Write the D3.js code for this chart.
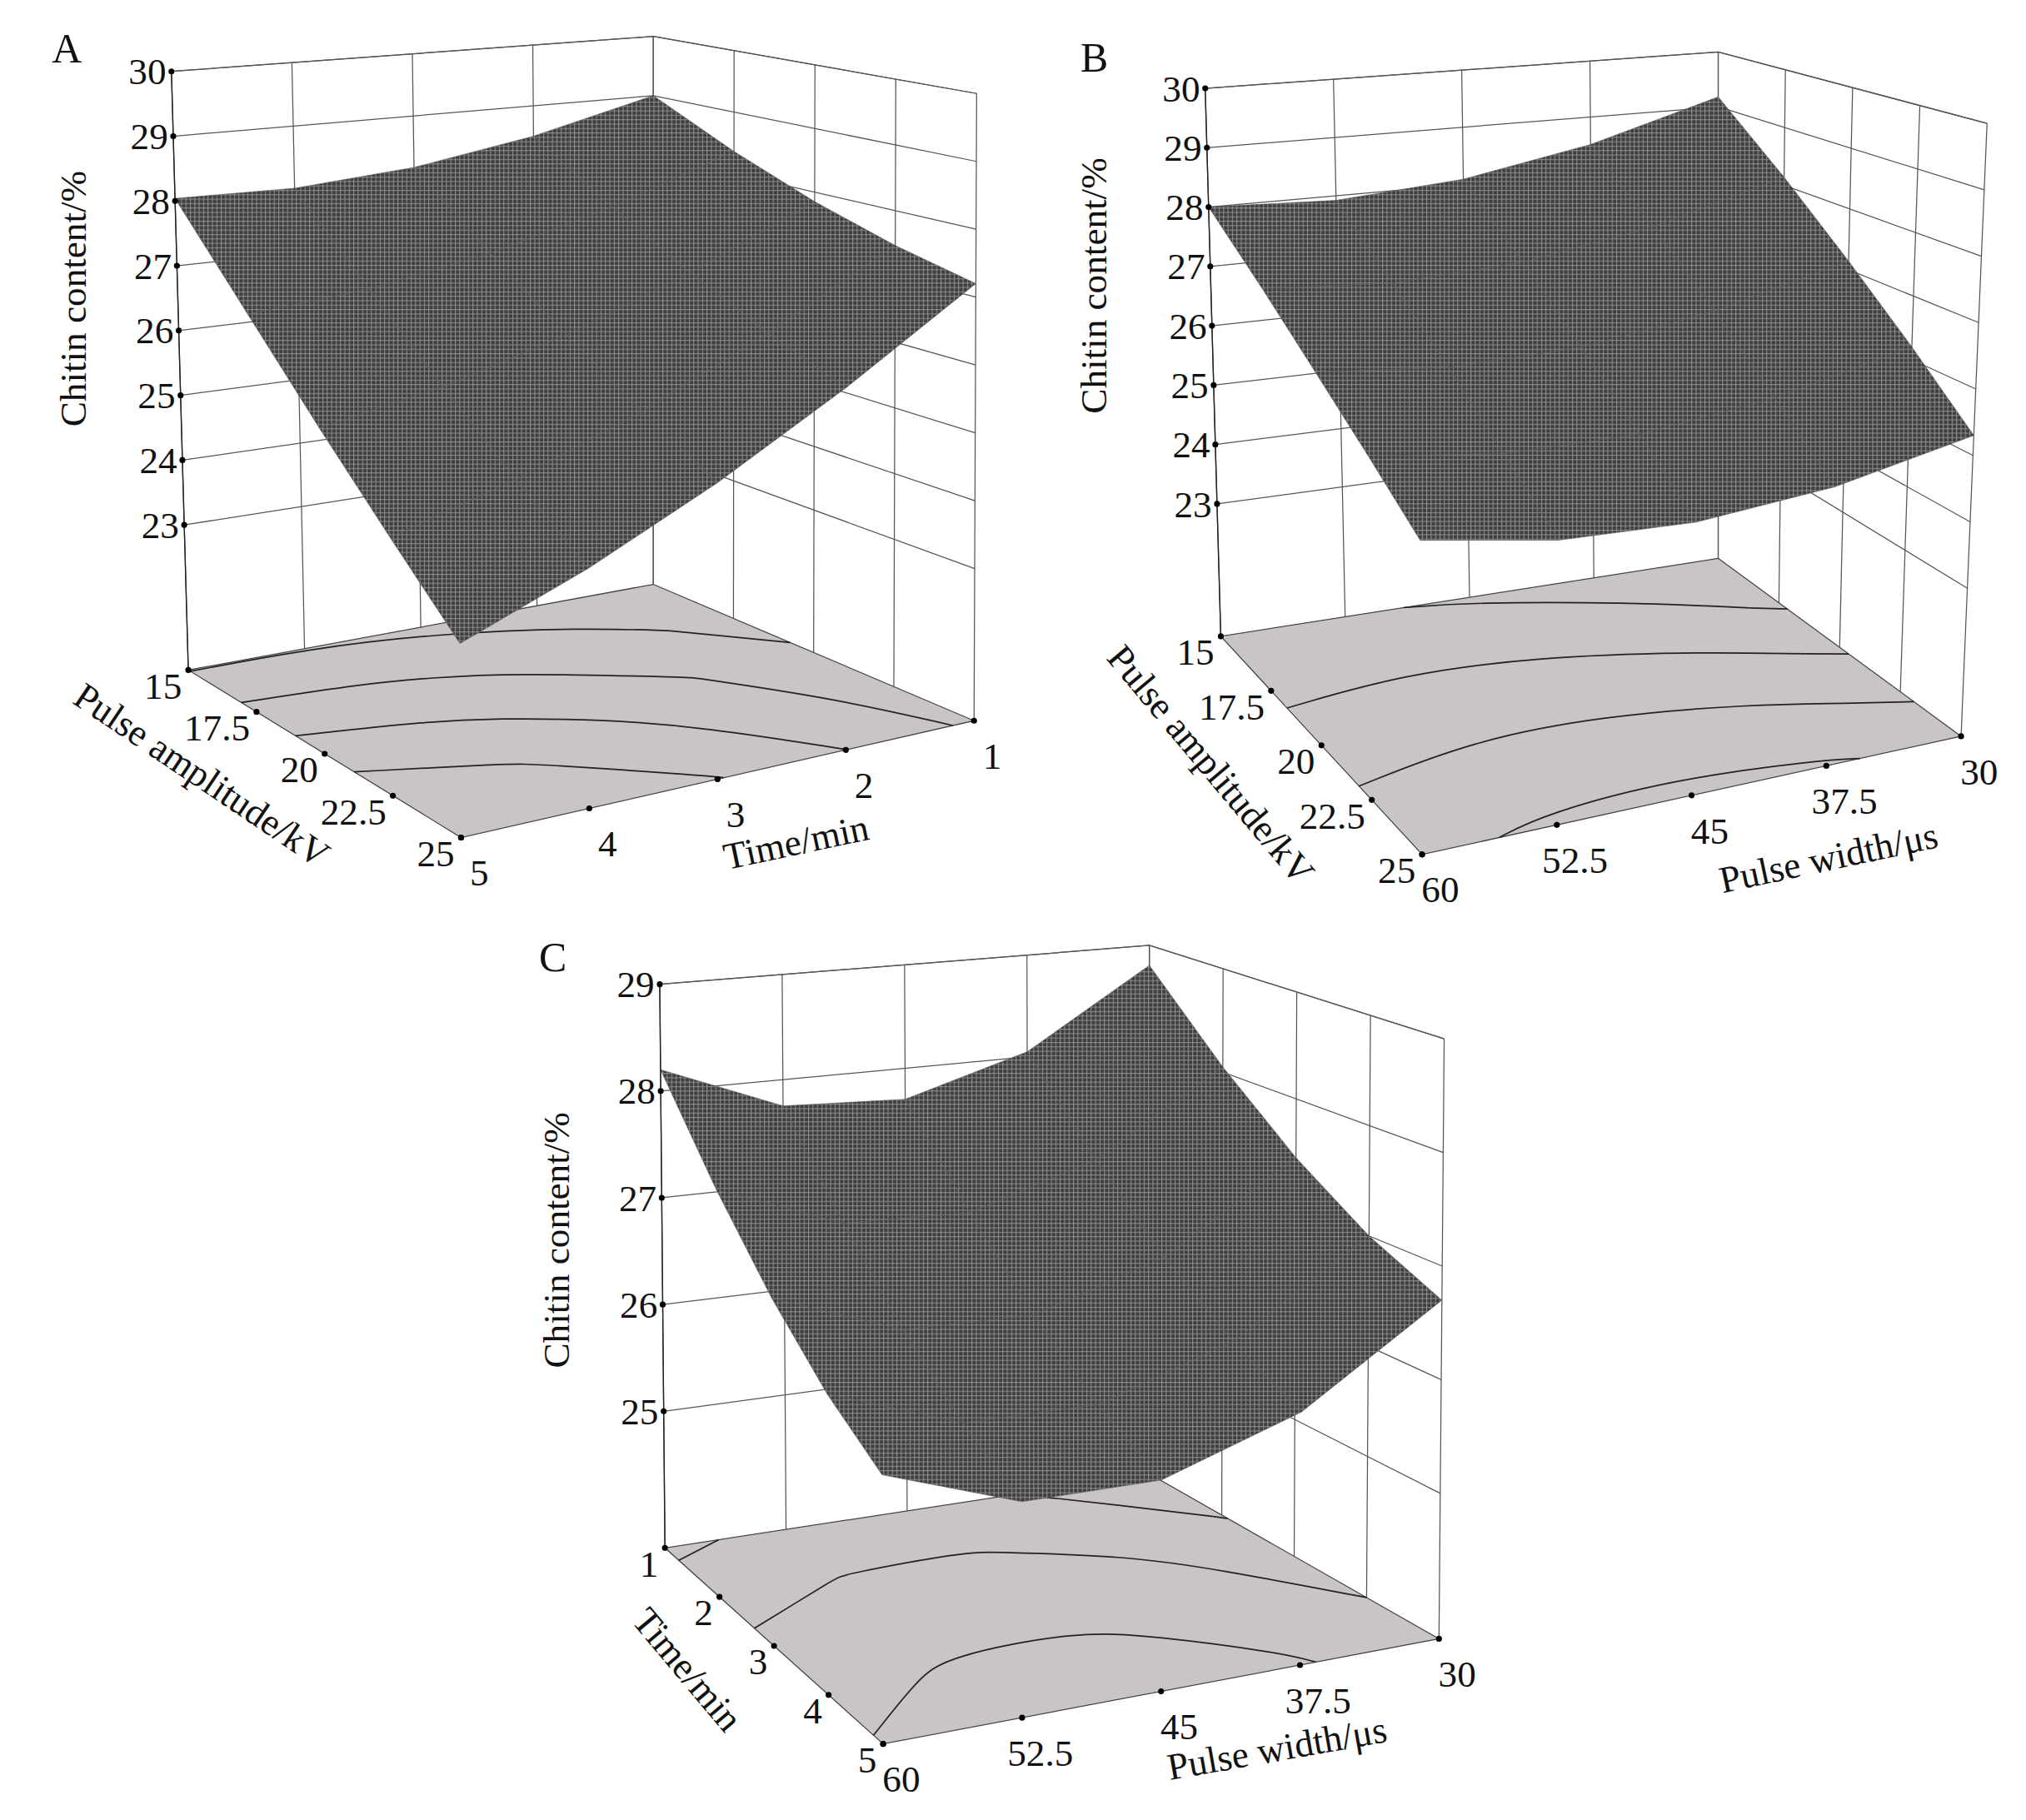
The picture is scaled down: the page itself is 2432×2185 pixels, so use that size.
<!DOCTYPE html>
<html>
<head>
<meta charset="utf-8">
<script src="https://cdn.jsdelivr.net/npm/d3@7"></script>
<style>
  body { margin: 0; background: #fff; }
  text { font-family: "Liberation Serif", "DejaVu Serif", serif; fill: #111; }
</style>
</head>
<body>
<svg id="chart" width="2432" height="2185"></svg>
<script>
// ---- data ----
var ampTicks = [15, 17.5, 20, 22.5, 25];
var timeTicks = [1, 2, 3, 4, 5];
var widthTicks = [30, 37.5, 45, 52.5, 60];
var zTicksAB = [23, 24, 25, 26, 27, 28, 29, 30];
var zTicksC = [25, 26, 27, 28, 29];

// chitin content, rows: first factor low->high, columns: second factor low->high
var surfA = [ // rows amplitude 15..25, cols time 1..5
  [29.00, 28.50, 28.17, 28.02, 28.04],
  [28.36, 27.68, 27.18, 26.85, 26.70],
  [27.85, 26.99, 26.31, 25.80, 25.47],
  [27.47, 26.43, 25.57, 24.89, 24.38],
  [27.20, 25.99, 24.95, 24.09, 23.40]
];
var surfB = [ // rows amplitude 15..25, cols width 30..60
  [29.18, 28.51, 28.09, 27.92, 28.00],
  [28.14, 27.53, 27.18, 27.08, 27.23],
  [27.14, 26.61, 26.32, 26.29, 26.50],
  [26.20, 25.73, 25.51, 25.54, 25.83],
  [25.30, 24.90, 24.75, 24.85, 25.20]
];
var surfC = [ // rows time 1..5, cols width 30..60
  [28.80, 28.05, 27.70, 27.75, 28.20],
  [28.05, 27.29, 26.93, 26.97, 27.41],
  [27.45, 26.68, 26.31, 26.34, 26.77],
  [27.00, 26.22, 25.84, 25.86, 26.28],
  [26.70, 25.91, 25.52, 25.53, 25.94]
];
var levelsA = [25, 26, 27, 28];
var levelsB = [25, 26, 27, 28];
var levelsC = [26, 27, 28];

var panels = [
  { tag: "A", pTicks: ampTicks, qTicks: timeTicks, pDom: [15, 25], qDom: [1, 5],
    zTicks: zTicksAB, zDom: [20.76, 30], surf: surfA, levels: levelsA,
    pTitle: "Pulse amplitude/kV", qTitle: "Time/min",
    // screen corners (bottom, top): back, right, left, front
    box: { back: [[503, 450], [503, 28]], right: [[750, 555], [752, 72]],
           left: [[145, 516], [132, 55]], front: [[355, 645], [352, 122]] },
    tagPos: [40, 48], yTitle: [66, 230], pT: [150, 605, 34], qT: [615, 658, -12] },
  { tag: "B", pTicks: ampTicks, qTicks: widthTicks, pDom: [15, 25], qDom: [30, 60],
    zTicks: zTicksAB, zDom: [20.77, 30], surf: surfB, levels: levelsB,
    pTitle: "Pulse amplitude/kV", qTitle: "Pulse width/μs",
    box: { back: [[1323, 430], [1323, 40]], right: [[1510, 567], [1530, 95]],
           left: [[940, 490], [928, 68]], front: [[1095, 658], [1092, 154]] },
    tagPos: [832, 55], yTitle: [852, 220], pT: [925, 595, 50], qT: [1410, 670, -12] },
  { tag: "C", pTicks: timeTicks, qTicks: widthTicks, pDom: [1, 5], qDom: [30, 60],
    zTicks: zTicksC, zDom: [23.72, 29], surf: surfC, levels: levelsC,
    pTitle: "Time/min", qTitle: "Pulse width/μs",
    box: { back: [[885, 1135], [885, 728]], right: [[1108, 1262], [1112, 800]],
           left: [[512, 1192], [508, 758]], front: [[680, 1343], [678, 850]] },
    tagPos: [415, 748], yTitle: [438, 955], pT: [522, 1292, 50], qT: [985, 1356, -10] }
];

var K = 2432 / 1560;
var FS = 29;
var svg = d3.select("#chart");
var root = svg.append("g").attr("transform", "scale(" + K + ")");

var defs = svg.append("defs");
var pat = defs.append("pattern").attr("id", "mesh").attr("patternUnits", "userSpaceOnUse")
  .attr("width", 3.4).attr("height", 3.4);
pat.append("rect").attr("width", 3.4).attr("height", 3.4).attr("fill", "#3e3e3e");
pat.append("path").attr("d", "M0,0.4H3.4M0.4,0V3.4").attr("stroke", "#9a9a9a").attr("stroke-width", 0.6);

function lerp(a, b, t) { return [a[0] + (b[0] - a[0]) * t, a[1] + (b[1] - a[1]) * t]; }

panels.forEach(function (P) {
  var g = root.append("g");
  var ps = d3.scaleLinear().domain(P.pDom).range([0, 1]);
  var qs = d3.scaleLinear().domain(P.qDom).range([0, 1]);
  var zs = d3.scaleLinear().domain(P.zDom).range([0, 1]);
  var B = P.box;
  // trilinear projection: p (back->right), q (back->left), z (floor->top)
  function proj(p, q, z) {
    var bot = lerp(lerp(B.back[0], B.right[0], p), lerp(B.left[0], B.front[0], p), q);
    var top = lerp(lerp(B.back[1], B.right[1], p), lerp(B.left[1], B.front[1], p), q);
    return lerp(bot, top, z);
  }
  var line = d3.line();
  var grid = "#555";

  // left wall (p = 0) and right wall (q = 0)
  P.qTicks.forEach(function (t) {
    g.append("path").attr("d", line([proj(0, qs(t), 0), proj(0, qs(t), 1)]))
      .attr("stroke", grid).attr("stroke-width", 0.8).attr("fill", "none");
  });
  P.pTicks.forEach(function (t) {
    g.append("path").attr("d", line([proj(ps(t), 0, 0), proj(ps(t), 0, 1)]))
      .attr("stroke", grid).attr("stroke-width", 0.8).attr("fill", "none");
  });
  P.zTicks.concat([P.zDom[1]]).forEach(function (z) {
    g.append("path").attr("d", line([proj(0, 1, zs(z)), proj(0, 0, zs(z)), proj(1, 0, zs(z))]))
      .attr("stroke", grid).attr("stroke-width", 0.8).attr("fill", "none");
  });

  // floor
  g.append("path").attr("d", line([proj(0, 0, 0), proj(1, 0, 0), proj(1, 1, 0), proj(0, 1, 0)]) + "Z")
    .attr("fill", "#c9c5c5").attr("stroke", "#444").attr("stroke-width", 0.8);

  // floor contours (border parts of the rings dropped)
  var n = P.surf.length, m = P.surf[0].length;
  var flat = [];
  P.surf.forEach(function (row) { row.forEach(function (v) { flat.push(v); }); });
  var cont = d3.contours().size([m, n]).thresholds(P.levels)(flat);
  var cl = function (v) { return Math.max(0, Math.min(1, v)); };
  var onBorder = function (pt) { return pt[0] <= 0 || pt[0] >= m || pt[1] <= 0 || pt[1] >= n; };
  cont.forEach(function (c) {
    c.coordinates.forEach(function (poly) {
      poly.forEach(function (ring) {
        var segs = [], cur = [];
        ring.forEach(function (pt) {
          if (onBorder(pt)) { if (cur.length > 1) segs.push(cur); cur = []; }
          else cur.push(pt);
        });
        if (cur.length > 1) segs.push(cur);
        segs.forEach(function (s) {
          var pts = s.map(function (pt) {
            return proj(cl((pt[1] - 0.5) / (n - 1)), cl((pt[0] - 0.5) / (m - 1)), 0);
          });
          g.append("path").attr("d", d3.line().curve(d3.curveBasis)(pts)).attr("fill", "none")
            .attr("stroke", "#222").attr("stroke-width", 1.1);
        });
      });
    });
  });

  // surface cells, back to front
  var cells = [];
  for (var i = 0; i < n - 1; i++) for (var j = 0; j < m - 1; j++) cells.push([i, j]);
  cells.sort(function (a, b) { return (a[0] + a[1]) - (b[0] + b[1]); });
  var pv = P.pTicks.map(ps), qv = P.qTicks.map(qs);
  cells.forEach(function (c) {
    var i = c[0], j = c[1];
    var pts = [[i, j], [i + 1, j], [i + 1, j + 1], [i, j + 1]].map(function (k) {
      return proj(pv[k[0]], qv[k[1]], zs(P.surf[k[0]][k[1]]));
    });
    g.append("path").attr("d", line(pts) + "Z").attr("fill", "url(#mesh)")
      .attr("stroke", "#585858").attr("stroke-width", 0.4);
  });

  // z axis at left corner
  g.append("path").attr("d", line([proj(0, 1, 0), proj(0, 1, 1)])).attr("stroke", "#222").attr("stroke-width", 0.9);
  P.zTicks.forEach(function (z) {
    var pt = proj(0, 1, zs(z));
    g.append("circle").attr("cx", pt[0]).attr("cy", pt[1]).attr("r", 2.3).attr("fill", "#000");
    g.append("text").attr("x", pt[0] - 4).attr("y", pt[1] + 10).attr("text-anchor", "end")
      .attr("font-size", FS).text(z);
  });
  // p axis ticks along left-front edge
  P.pTicks.forEach(function (t) {
    var pt = proj(ps(t), 1, 0);
    g.append("circle").attr("cx", pt[0]).attr("cy", pt[1]).attr("r", 2.3).attr("fill", "#000");
    g.append("text").attr("x", pt[0] - 5).attr("y", pt[1] + 22).attr("text-anchor", "end")
      .attr("font-size", FS).text(t);
  });
  // q axis ticks along front-right edge
  P.qTicks.forEach(function (t) {
    var pt = proj(1, qs(t), 0);
    g.append("circle").attr("cx", pt[0]).attr("cy", pt[1]).attr("r", 2.3).attr("fill", "#000");
    g.append("text").attr("x", pt[0] + 14).attr("y", pt[1] + 37).attr("text-anchor", "middle")
      .attr("font-size", FS).text(t);
  });

  // titles
  g.append("text").attr("x", P.tagPos[0]).attr("y", P.tagPos[1]).attr("font-size", 32).text(P.tag);
  g.append("text").attr("transform", "translate(" + P.yTitle[0] + "," + P.yTitle[1] + ") rotate(-90)")
    .attr("text-anchor", "middle").attr("font-size", 29).text("Chitin content/%");
  g.append("text").attr("transform", "translate(" + P.pT[0] + "," + P.pT[1] + ") rotate(" + P.pT[2] + ")")
    .attr("text-anchor", "middle").attr("font-size", 29).text(P.pTitle);
  g.append("text").attr("transform", "translate(" + P.qT[0] + "," + P.qT[1] + ") rotate(" + P.qT[2] + ")")
    .attr("text-anchor", "middle").attr("font-size", 29).text(P.qTitle);
});
</script>
</body>
</html>
